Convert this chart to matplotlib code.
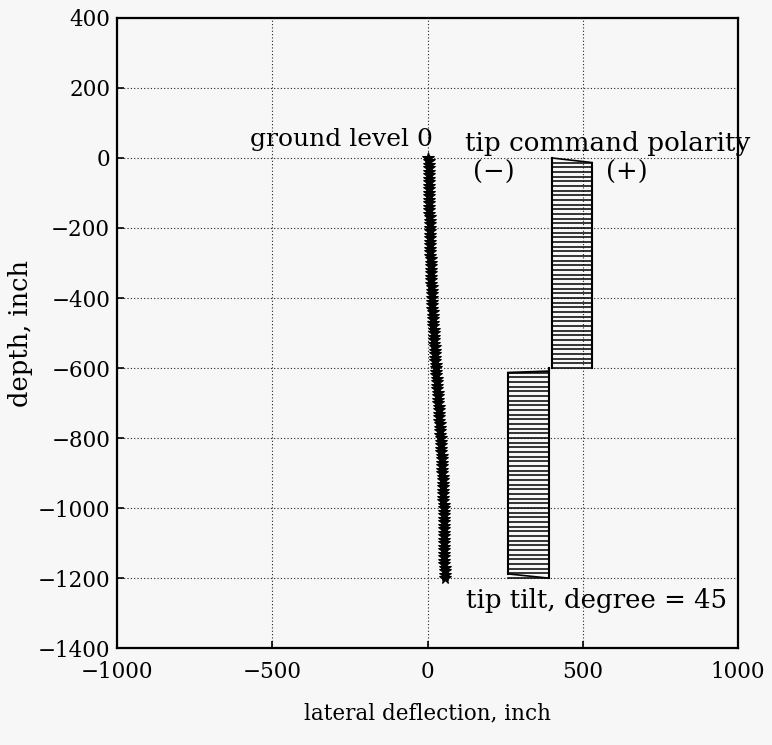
import numpy as np
import matplotlib
matplotlib.use("Agg")
import matplotlib.pyplot as plt

# ---- data ----
# drill path (depth, lateral deflection)
path_depth = [0, -100, -200, -300, -400, -500, -600, -700, -800, -900, -1000, -1100, -1200]
path_defl = [3, 5, 7, 10, 14, 20, 27, 35, 42, 48, 52, 54, 55]

# tip command polarity bars: one horizontal stroke per segment
n_seg = 90
bar_depth = list(np.linspace(-13.3, -1200, n_seg))
bar_sign = [1] * 45 + [-1] * 45
bar_base_upper = 400
bar_base_lower = 390
bar_len = 130

xticks = [-1000, -500, 0, 500, 1000]
yticks = [400, 200, 0, -200, -400, -600, -800, -1000, -1200, -1400]

# ---- figure ----
plt.rcParams['font.family'] = ['DejaVu Serif']
fig = plt.figure(figsize=(7.72, 7.45), dpi=100)
fig.patch.set_facecolor('#f7f7f7')
ax = fig.add_axes([0.1516, 0.130, 0.8044, 0.846])
ax.set_facecolor('#f7f7f7')

# dense drill path with star markers
dd = np.linspace(0, -1200, 121)
dx = np.interp(-dd, [-d for d in path_depth], path_defl)
ax.plot(dx, dd, color='black', lw=2, marker='*', ms=8.5, mew=0.8, zorder=3)

# polarity bars
ud, ld = [], []
for d, s in zip(bar_depth, bar_sign):
    if s > 0:
        ax.plot([bar_base_upper, bar_base_upper + bar_len], [d, d], color='black', lw=1.1)
        ud.append(d)
    else:
        ax.plot([bar_base_lower, bar_base_lower - bar_len], [d, d], color='black', lw=1.1)
        ld.append(d)

# outlines
ax.plot([bar_base_upper, bar_base_upper], [0, ud[-1]], color='black', lw=1.5)
ax.plot([bar_base_upper + bar_len, bar_base_upper + bar_len], [ud[0], ud[-1]], color='black', lw=1.5)
ax.plot([bar_base_upper, bar_base_upper + bar_len], [0, ud[0]], color='black', lw=1.2)
ax.plot([bar_base_lower, bar_base_lower], [ud[-1], ld[-1]], color='black', lw=1.5)
ax.plot([bar_base_lower - bar_len, bar_base_lower - bar_len], [ld[0], ld[-1] + 12], color='black', lw=1.5)
ax.plot([bar_base_lower - bar_len, bar_base_lower], [ld[-1] + 12, ld[-1]], color='black', lw=1.2)
ax.plot([bar_base_lower - bar_len, bar_base_lower], [ld[0], ld[0] + 4], color='black', lw=1.5)

ax.set_xlim(-1000, 1000)
ax.set_ylim(-1400, 400)
ax.set_xticks(xticks)
ax.set_yticks(yticks)
ax.grid(True, color='#222222', linestyle=(0, (1, 2)), linewidth=0.8)
ax.set_axisbelow(True)
ax.tick_params(direction='in', length=5, width=1.2, labelsize=15.5)
ax.tick_params(axis='x', pad=9)
ax.tick_params(axis='y', pad=5)
for sp in ax.spines.values():
    sp.set_linewidth(1.6)

ax.text(16, 52, 'ground level 0', ha='right', va='center', fontsize=18)
ax.text(122, 40, 'tip command polarity', ha='left', va='center', fontsize=18.9, clip_on=False)
ax.text(212, -42, '(\u2212)', ha='center', va='center', fontsize=18.5)
ax.text(643, -42, '(+)', ha='center', va='center', fontsize=18.5)
ax.text(124, -1263, 'tip tilt, degree = 45', ha='left', va='center', fontsize=18.7)

ax.set_xlabel('lateral deflection, inch', fontsize=15.5, labelpad=14)
ax.set_ylabel('depth, inch', fontsize=18.5, labelpad=3)

fig.savefig('out.png', dpi=100, facecolor=fig.get_facecolor())
